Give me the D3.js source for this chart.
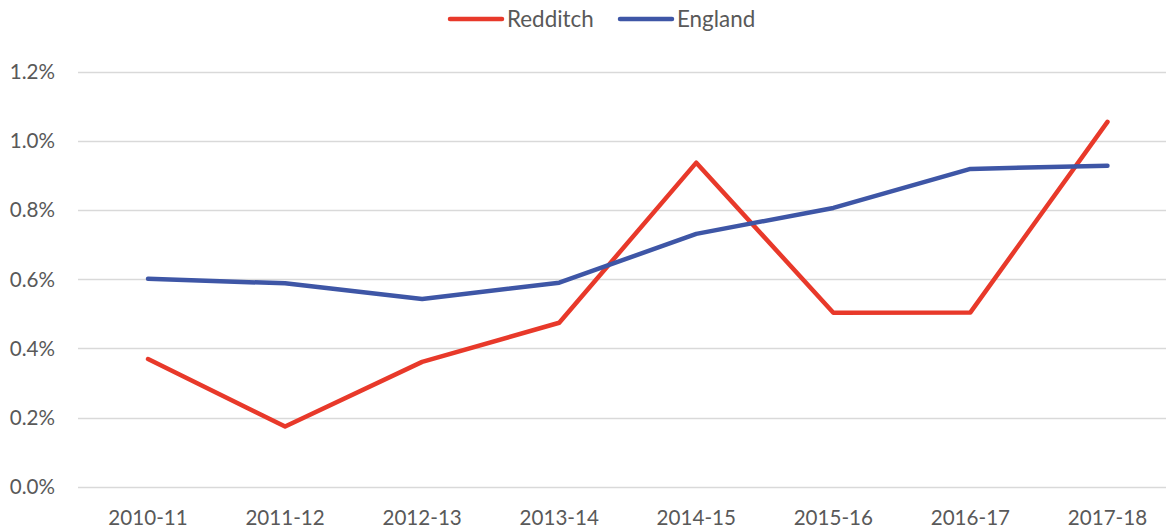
<!DOCTYPE html>
<html>
<head>
<meta charset="utf-8">
<script src="https://cdn.jsdelivr.net/npm/d3@7"></script>
<style>
  body { margin: 0; background: #fff; }
  text { font-family: Lato, "Open Sans", sans-serif; fill: #595959; }
</style>
</head>
<body>
<svg id="chart"></svg>
<script>
// data (percent)
const years = ["2010-11", "2011-12", "2012-13", "2013-14", "2014-15", "2015-16", "2016-17", "2017-18"];
const redditch = [0.369, 0.174, 0.361, 0.474, 0.937, 0.503, 0.504, 1.055];
const england = [0.601, 0.588, 0.543, 0.590, 0.731, 0.806, 0.919, 0.928];
const yTicks = [0, 0.2, 0.4, 0.6, 0.8, 1.0, 1.2];

const seriesNames = ["Redditch", "England"];
const seriesColors = ["#E8392A", "#3E56A6"];

const W = 1166, H = 530;
const svg = d3.select("#chart").attr("width", W).attr("height", H);

const x = d3.scalePoint()
  .domain(years)
  .range([79.5, 1176])
  .padding(0.5);

const y = d3.scaleLinear()
  .domain([0, 1.2])
  .range([486.7, 71.7]);

// gridlines
svg.append("g")
  .selectAll("line")
  .data(yTicks)
  .enter()
  .append("line")
    .attr("x1", 78)
    .attr("x2", W)
    .attr("y1", d => Math.round(y(d)) + 0.5)
    .attr("y2", d => Math.round(y(d)) + 0.5)
    .attr("stroke", "#d9d9d9")
    .attr("stroke-width", 1.3);

// y labels
svg.append("g")
  .selectAll("text")
  .data(yTicks)
  .enter()
  .append("text")
    .attr("x", 55)
    .attr("y", d => y(d))
    .attr("dy", "0.36em")
    .attr("text-anchor", "end")
    .style("font-size", "20.6px")
    .text(d => d.toFixed(1) + "%");

// x labels
svg.append("g")
  .selectAll("text")
  .data(years)
  .enter()
  .append("text")
    .attr("x", d => x(d))
    .attr("y", 525)
    .attr("text-anchor", "middle")
    .style("font-size", "20.6px")
    .text(d => d);

const line = d3.line()
  .x((d, i) => x(years[i]))
  .y(d => y(d));

[redditch, england].forEach((vals, k) => {
  svg.append("path")
    .datum(vals)
    .attr("d", line)
    .attr("fill", "none")
    .attr("stroke", seriesColors[k])
    .attr("stroke-width", 4.5)
    .attr("stroke-linejoin", "round")
    .attr("stroke-linecap", "round");
});

// legend
const legendX = [448, 618];
seriesNames.forEach((name, k) => {
  const lg = svg.append("g").attr("transform", `translate(${legendX[k]},19)`);
  lg.append("line")
    .attr("x1", 2).attr("x2", 54)
    .attr("y1", 0).attr("y2", 0)
    .attr("stroke", seriesColors[k])
    .attr("stroke-width", 4.5)
    .attr("stroke-linecap", "round");
  lg.append("text")
    .attr("x", 59)
    .attr("y", 0)
    .attr("dy", "0.36em")
    .style("font-size", "22.4px")
    .text(name);
});
</script>
</body>
</html>
